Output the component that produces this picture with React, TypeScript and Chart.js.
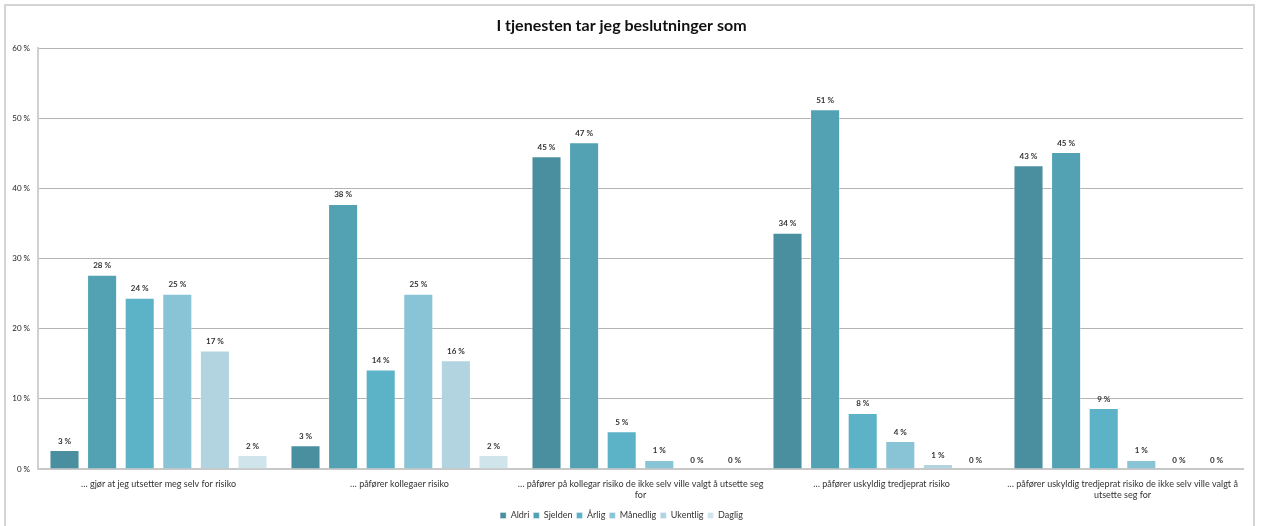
import React, { useEffect, useRef } from "react";
import { Chart, registerables } from "chart.js";

Chart.register(...registerables);

const TITLE = "I tjenesten tar jeg beslutninger som";

const categories: (string | string[])[] = [
  "… gjør at jeg utsetter meg selv for risiko",
  "… påfører kollegaer risiko",
  ["… påfører på kollegar risiko de ikke selv ville valgt å utsette seg", "for"],
  "… påfører uskyldig tredjeprat risiko",
  ["… påfører uskyldig tredjeprat risiko de ikke selv ville valgt å", "utsette seg for"],
];

const seriesNames = ["Aldri", "Sjelden", "Årlig", "Månedlig", "Ukentlig", "Daglig"];

const aldri = [2.7, 3.4, 44.6, 33.7, 43.3];
const sjelden = [27.7, 37.8, 46.6, 51.3, 45.2];
const arlig = [24.4, 14.2, 5.4, 8.0, 8.7];
const manedlig = [25.0, 25.0, 1.3, 4.0, 1.3];
const ukentlig = [16.9, 15.5, 0, 0.7, 0];
const daglig = [2.0, 2.0, 0, 0, 0];

const seriesValues = [aldri, sjelden, arlig, manedlig, ukentlig, daglig];
const seriesColors = ["#4a8f9f", "#52a2b4", "#5cb3c8", "#88c4d5", "#b1d4e0", "#d0e4ec"];

const yTicks = [0, 10, 20, 30, 40, 50, 60];

const FONT = "Lato, 'Open Sans', sans-serif";

const valueLabels = {
  id: "valueLabels",
  afterDatasetsDraw(chart: any) {
    const ctx = chart.ctx;
    ctx.save();
    ctx.font = `bold 8px ${FONT}`;
    ctx.fillStyle = "#333333";
    ctx.textAlign = "center";
    ctx.textBaseline = "bottom";
    chart.data.datasets.forEach((ds: any, i: number) => {
      const meta = chart.getDatasetMeta(i);
      if (meta.hidden) return;
      meta.data.forEach((el: any, j: number) => {
        const v = ds.data[j];
        ctx.fillText(`${Math.round(v)} %`, el.x, el.y - 5);
      });
    });
    ctx.restore();
  },
};

const frame = {
  id: "frame",
  beforeDraw(chart: any) {
    const ctx = chart.ctx;
    ctx.save();
    ctx.fillStyle = "#ffffff";
    ctx.fillRect(0, 0, chart.width, chart.height);
    ctx.strokeStyle = "#d4d4d4";
    ctx.lineWidth = 2;
    ctx.strokeRect(5, 5, 1249, 600);
    ctx.restore();
  },
};

export default function App() {
  const ref = useRef<HTMLCanvasElement>(null);

  useEffect(() => {
    if (!ref.current) return;
    const chart = new Chart(ref.current, {
      type: "bar",
      data: {
        labels: categories,
        datasets: seriesNames.map((name, i) => ({
          label: name,
          data: seriesValues[i],
          backgroundColor: seriesColors[i],
          borderColor: "rgba(255,255,255,0.35)",
          borderWidth: 1,
          categoryPercentage: 0.936,
          barPercentage: 0.8,
        })),
      },
      options: {
        animation: false,
        responsive: false,
        maintainAspectRatio: false,
        layout: { padding: { top: 16, right: 20, bottom: -4, left: 0 } },
        plugins: {
          title: {
            display: true,
            text: TITLE,
            color: "#111111",
            font: { family: FONT, size: 16, weight: "bold" },
            padding: { top: 0, bottom: 13 },
          },
          legend: {
            position: "bottom",
            labels: {
              boxWidth: 6,
              boxHeight: 6,
              padding: 4,
              color: "#333333",
              font: { family: FONT, size: 9 },
            },
          },
          tooltip: { enabled: false },
        },
        scales: {
          x: {
            grid: { display: false, drawTicks: false },
            border: { display: true, color: "#c8c8c8", width: 2 },
            ticks: {
              color: "#333333",
              font: { family: FONT, size: 9 },
              padding: 10,
              maxRotation: 0,
              autoSkip: false,
            },
            afterFit(scale: any) {
              scale.height = 38;
            },
          },
          y: {
            min: 0,
            max: 60,
            afterBuildTicks(scale: any) {
              scale.ticks = yTicks.map((v) => ({ value: v }));
            },
            grid: { color: "#b4b4b4", lineWidth: 1, drawTicks: false },
            border: { display: true, color: "#d0d0d0", width: 2 },
            ticks: {
              color: "#222222",
              font: { family: FONT, size: 8 },
              padding: 8,
              callback: (v: any) => `${v} %`,
            },
            afterFit(scale: any) {
              scale.width = 38;
            },
          },
        },
      },
      plugins: [frame, valueLabels],
    });
    return () => chart.destroy();
  }, []);

  return (
    <canvas
      ref={ref}
      width={1263}
      height={526}
      style={{ position: "absolute", left: 0, top: 0, width: 1263, height: 526 }}
    />
  );
}
